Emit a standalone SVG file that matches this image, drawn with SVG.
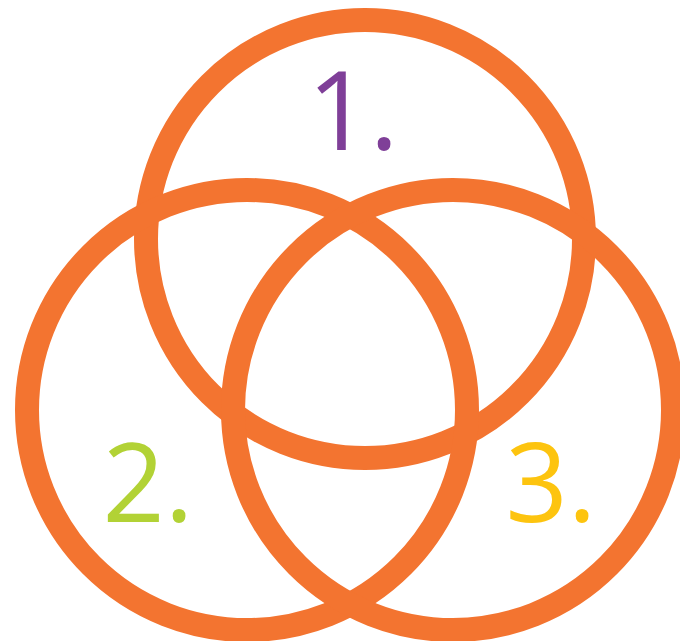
<svg xmlns="http://www.w3.org/2000/svg" width="680" height="641" viewBox="0 0 680 641">
<style>
.ring{fill:none;stroke:#f37430;stroke-width:24}
.lbl{font-family:"Open Sans","Noto Sans",sans-serif;font-size:109px}
</style>
<rect width="680" height="641" fill="#ffffff"/>
<g id="connectors"></g>
<g id="circle1"><circle class="ring" cx="365" cy="239" r="219"/></g>
<g id="circle2"><circle class="ring" cx="247" cy="410" r="220"/></g>
<g id="circle3"><circle class="ring" cx="453" cy="410" r="220"/></g>
<g id="label1"><text class="lbl" x="353" y="150" text-anchor="middle" fill="#7f3f98">1.</text></g>
<g id="label2"><text class="lbl" x="148" y="522" text-anchor="middle" fill="#b2d235">2.</text></g>
<g id="label3"><text class="lbl" x="551" y="522" text-anchor="middle" fill="#fdc40f">3.</text></g>
</svg>
